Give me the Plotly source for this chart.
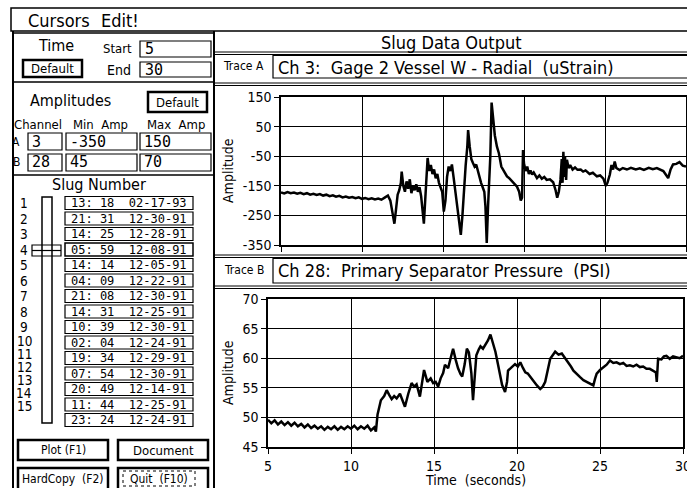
import plotly.graph_objects as go

W, H = 687, 488

# ---------------- data ----------------
time_a = [5.0, 5.2, 5.4, 5.6, 5.8, 6.0, 6.2, 6.4, 6.6, 6.8, 7.0, 7.2, 7.4, 7.6, 7.8, 8.0, 8.2, 8.4, 8.6, 8.8,
          9.0, 9.2, 9.4, 9.6, 9.8, 10.0, 10.2, 10.4, 10.6, 10.8, 11.0, 11.2, 11.4, 11.6, 11.75, 11.9, 12.0, 12.1,
          12.2, 12.3, 12.4, 12.45, 12.55, 12.65, 12.75, 12.85, 12.95, 13.05, 13.15, 13.25, 13.35, 13.45, 13.55,
          13.65, 13.75, 13.82, 13.9, 14.0, 14.05, 14.15, 14.25, 14.35, 14.45, 14.55, 14.65, 14.75, 14.85, 14.95,
          15.05, 15.15, 15.25, 15.35, 15.45, 15.55, 15.65, 15.75, 15.85, 15.95, 16.1, 16.2, 16.3, 16.4, 16.5,
          16.55, 16.65, 16.75, 16.85, 16.95, 17.05, 17.15, 17.25, 17.35, 17.45, 17.55, 17.62, 17.7, 17.78, 17.85,
          17.92, 18.0, 18.1, 18.2, 18.33, 18.45, 18.6, 18.75, 18.95, 19.1, 19.25, 19.4, 19.57, 19.7, 19.8, 19.88,
          19.94, 20.0, 20.1, 20.2, 20.3, 20.4, 20.5, 20.6, 20.8, 20.95, 21.1, 21.25, 21.4, 21.6, 21.8, 21.95,
          22.05, 22.15, 22.25, 22.33, 22.38, 22.43, 22.48, 22.53, 22.6, 22.65, 22.75, 22.85, 23.0, 23.15, 23.3,
          23.5, 23.65, 23.8, 24.05, 24.25, 24.5, 24.7, 24.9, 25.05, 25.15, 25.3, 25.4, 25.5, 25.6, 25.7, 25.9,
          26.1, 26.35, 26.6, 26.9, 27.15, 27.4, 27.7, 27.95, 28.2, 28.45, 28.6, 28.75, 28.9, 29.05, 29.2, 29.4,
          29.6, 29.8, 30.0]
strain_a = [-172, -176, -171, -175, -173, -177, -174, -178, -175, -180, -177, -181, -178, -183, -180, -185, -182,
            -187, -184, -189, -186, -190, -188, -192, -189, -194, -191, -195, -192, -196, -193, -197, -190, -183,
            -200, -250, -278, -230, -180, -165, -140, -102, -150, -170, -135, -160, -128, -175, -150, -165, -145,
            -170, -155, -185, -230, -278, -200, -90, -56, -100, -80, -110, -95, -125, -110, -140, -155, -170,
            -237, -200, -120, -85, -100, -78, -120, -160, -200, -240, -316, -250, -153, -80, -18, 38, -18, -60,
            -73, -85, -78, -100, -120, -140, -155, -170, -220, -343, -220, -120, -52, 131, 72, 20, -18, -40, -85,
            -100, -118, -125, -135, -145, -153, -170, -200, -190, -29, -75, -100, -85, -110, -98, -112, -105,
            -124, -115, -126, -120, -130, -128, -138, -165, -190, -170, -130, -60, -140, -35, -120, -50, -130,
            -62, -90, -80, -95, -88, -96, -95, -102, -98, -110, -106, -118, -115, -126, -150, -140, -112, -80,
            -95, -68, -90, -97, -90, -95, -89, -95, -91, -96, -89, -94, -90, -96, -100, -112, -124, -95, -78,
            -76, -70, -82, -85]

time_b = [5.0, 5.2, 5.4, 5.6, 5.8, 6.0, 6.2, 6.4, 6.6, 6.8, 7.0, 7.2, 7.4, 7.6, 7.8, 8.0, 8.2, 8.4, 8.6, 8.8,
          9.0, 9.2, 9.4, 9.6, 9.8, 10.0, 10.2, 10.4, 10.6, 10.8, 11.0, 11.2, 11.4, 11.5, 11.6, 11.8, 12.0, 12.15,
          12.3, 12.45, 12.6, 12.75, 12.95, 13.1, 13.25, 13.45, 13.65, 13.8, 13.95, 14.15, 14.3, 14.4, 14.5, 14.6,
          14.8, 14.95, 15.1, 15.25, 15.4, 15.55, 15.66, 15.85, 16.0, 16.15, 16.3, 16.45, 16.6, 16.7, 16.85, 16.98,
          17.1, 17.25, 17.35, 17.45, 17.55, 17.7, 17.8, 17.95, 18.1, 18.25, 18.4, 18.55, 18.7, 18.85, 18.98, 19.1,
          19.28, 19.4, 19.46, 19.6, 19.75, 19.88, 20.05, 20.2, 20.35, 20.5, 20.65, 20.8, 21.0, 21.2, 21.4, 21.55,
          21.7, 21.85, 22.0, 22.15, 22.3, 22.5, 22.7, 22.9, 23.1, 23.25, 23.4, 23.6, 23.8, 24.0, 24.2, 24.4, 24.6,
          24.7, 24.8, 25.0, 25.2, 25.4, 25.6, 25.8, 26.0, 26.2, 26.4, 26.6, 26.8, 27.0, 27.2, 27.4, 27.6, 27.8,
          28.0, 28.2, 28.37, 28.42, 28.5, 28.7, 28.85, 29.0, 29.2, 29.4, 29.6, 29.8, 30.0]
psi_b = [49.6, 49.0, 49.5, 48.8, 49.3, 48.7, 49.2, 48.6, 49.1, 48.5, 48.9, 48.3, 48.8, 48.2, 48.6, 48.1, 48.5,
         47.9, 48.4, 48.0, 48.5, 47.9, 48.4, 48.0, 48.5, 48.1, 48.6, 48.0, 48.5, 48.1, 48.6, 47.8, 48.3, 47.6,
         50.5, 52.9, 53.6, 54.6, 53.8, 53.1, 53.6, 53.2, 54.0, 53.0, 51.8, 54.0, 55.8, 55.2, 55.6, 53.5, 56.0,
         58.0, 57.0, 56.0, 56.6, 55.8, 56.0, 55.2, 56.6, 57.5, 58.9, 58.3, 60.0, 61.6, 59.8, 58.3, 57.3, 56.9,
         59.0, 61.6, 61.0, 57.5, 52.9, 57.0, 60.5, 61.5, 62.0, 61.6, 62.3, 63.0, 64.0, 62.5, 61.1, 59.0, 57.1,
         55.5, 54.3, 56.0, 57.9, 58.3, 58.8, 59.0, 58.6, 59.3, 58.4, 57.6, 57.4, 56.8, 56.2, 55.4, 54.8, 55.2,
         56.0, 57.8, 59.9, 60.5, 61.1, 60.6, 60.8, 60.0, 59.3, 58.6, 57.9, 57.3, 56.8, 56.3, 56.0, 55.8, 55.4,
         56.5, 57.4, 58.0, 58.5, 58.9, 59.6, 59.2, 59.3, 59.0, 59.2, 58.7, 58.8, 58.6, 58.9, 58.5, 58.6, 58.2,
         58.2, 57.9, 57.6, 56.0, 59.9, 59.8, 60.3, 60.4, 59.9, 60.3, 60.2, 60.0, 60.4]

x_ticks = [5, 10, 15, 20, 25, 30]
ya_ticks = [150, 50, -50, -150, -250, -350]
yb_ticks = [70, 65, 60, 55, 50, 45]

slug_numbers = [str(i) for i in range(1, 16)]
slug_times = ["13: 18", "21: 31", "14: 25", "05: 59", "14: 14", "04: 09", "21: 08", "14: 31",
              "10: 39", "02: 04", "19: 34", "07: 54", "20: 49", "11: 44", "23: 24"]
slug_dates = ["02-17-93", "12-30-91", "12-28-91", "12-08-91", "12-05-91", "12-22-91", "12-30-91", "12-25-91",
              "12-30-91", "12-24-91", "12-29-91", "12-30-91", "12-14-91", "12-25-91", "12-24-91"]
selected_slug = 4

time_start, time_end = "5", "30"
channels = ["A", "B"]
channel_ids = ["3", "28"]
min_amps = ["-350", "45"]
max_amps = ["150", "70"]
trace_a_label = "Ch 3:  Gage 2 Vessel W - Radial  (uStrain)"
trace_b_label = "Ch 28:  Primary Separator Pressure  (PSI)"

# ---------------- helpers (pixel -> paper) ----------------
NARROW = "Liberation Sans Narrow, DejaVu Sans Condensed, Roboto Condensed, Arial Narrow, sans-serif"
MONO = "DejaVu Sans Mono, Liberation Mono, monospace"


def X(px):
    return px / W


def Y(py):
    return 1 - py / H


shapes = []
annotations = []


def rect(x0, y0, x1, y1, w=1.2, dash=None):
    line = dict(color="black", width=w)
    if dash:
        line["dash"] = dash
    shapes.append(dict(type="rect", xref="paper", yref="paper", x0=X(x0), x1=X(x1),
                       y0=Y(y1), y1=Y(y0), line=line, fillcolor="rgba(0,0,0,0)"))


def hline(x0, x1, y, w=1.2):
    shapes.append(dict(type="line", xref="paper", yref="paper", x0=X(x0), x1=X(x1),
                       y0=Y(y), y1=Y(y), line=dict(color="black", width=w)))


def vline(x, y0, y1, w=1.2):
    shapes.append(dict(type="line", xref="paper", yref="paper", x0=X(x), x1=X(x),
                       y0=Y(y0), y1=Y(y1), line=dict(color="black", width=w)))


def text(s, x, y, size, anchor="center", family=NARROW, angle=0):
    annotations.append(dict(text=s, x=X(x), y=Y(y), xref="paper", yref="paper",
                            xanchor=anchor, yanchor="middle", showarrow=False, textangle=angle,
                            borderpad=0,
                            font=dict(size=size, family=family, color="black")))


# ---------------- GUI frame ----------------
# menu bar
rect(11, 8, 700, 31, 1.5)
text("Cursors", 27, 20, 18, "left")
text("Edit!", 100, 20, 18, "left")

# left panel
vline(13, 31, 490, 2)
vline(214, 31, 490, 2)
hline(13, 214, 33, 1.5)

# Time section
text("Time", 56, 46, 16)
text("Start", 133, 48, 13, "right")
rect(140, 41, 211, 57, 1.2)
text(time_start, 144, 49.5, 15, "left", MONO)
text("End", 132, 70, 14, "right")
rect(140, 62, 211, 77, 1.2)
text(time_end, 144, 70, 15, "left", MONO)
rect(23, 60, 82, 77, 2.5)
text("Default", 52.5, 68.5, 13)
hline(13, 214, 82, 1.5)

# Amplitudes section
text("Amplitudes", 70, 100, 16)
rect(148, 92, 207, 112, 2.5)
text("Default", 177.5, 102, 13)
text("Channel", 13, 125, 13, "left")
text("Min  Amp", 72, 125, 13, "left")
text("Max  Amp", 146, 125, 13, "left")
row_tops = [133, 154]
for i in range(2):
    t0 = row_tops[i]
    t1 = t0 + 17
    ym = (t0 + t1) / 2
    text(channels[i], 16, ym, 12)
    rect(28, t0, 62, t1, 1.2)
    text(channel_ids[i], 31, ym, 15, "left", MONO)
    rect(66, t0, 137, t1, 1.2)
    text(min_amps[i], 69, ym, 15, "left", MONO)
    rect(140, t0, 211, t1, 1.2)
    text(max_amps[i], 143, ym, 15, "left", MONO)
hline(13, 214, 175, 1.5)

# Slug number section
text("Slug Number", 99, 185, 16)
label_y = [203, 218.5, 234, 249.5, 265, 280.5, 296, 311.5, 327, 341, 354, 367, 380, 393, 406]
for i, lab in enumerate(slug_numbers):
    text(lab, 24, label_y[i], 13.5)
rect(42, 197, 52, 423, 1.5)
thumb_y = 245 + (selected_slug - 4) * 15.5
rect(32, thumb_y, 61, thumb_y + 11, 1.2)
hline(32, 61, thumb_y + 5.5, 1.2)
for i in range(15):
    top = 196.5 + i * 15.5
    rect(65, top, 193, top + 13, 1.5 if i + 1 == selected_slug else 1.2)
    text(slug_times[i] + "  " + slug_dates[i], 129, top + 6.7, 12, "center", MONO)

# buttons
rect(18, 440, 108, 460, 2.5)
text("Plot (F1)", 63, 450, 12)
rect(118, 440, 208, 460, 2.5)
text("Document", 163, 450, 13)
rect(18, 468, 108, 490, 2.5)
text("HardCopy  (F2)", 63, 479, 12)
rect(118, 468, 208, 490, 2.5)
rect(123, 471, 195, 486, 1, "dot")
text("Quit  (F10)", 159, 479, 12)

# right panel header rows
text("Slug Data Output", 451, 42, 18)
hline(214, 700, 52, 1)
hline(214, 700, 54.5, 1)
text("Trace A", 244, 66, 12)
rect(273, 55.5, 700, 78, 1.2)
text(trace_a_label, 277, 67, 18, "left")
hline(214, 700, 83, 1)
hline(214, 700, 85.5, 1)
hline(214, 700, 255, 1)
hline(214, 700, 257.5, 1)
text("Trace B", 244, 270, 12)
rect(273, 258.5, 700, 283, 1.2)
text(trace_b_label, 277, 270, 18, "left")
hline(214, 700, 286, 1)
hline(214, 700, 288.5, 1)

# y axis titles
text("Amplitude", 228, 171, 14, "center", NARROW, -90)
text("Amplitude", 228, 373, 14, "center", NARROW, -90)
text("Time  (seconds)", 475, 480, 14)

# ---------------- charts ----------------
fig = go.Figure()
fig.add_trace(go.Scatter(x=time_a, y=strain_a, mode="lines", line=dict(color="black", width=2.5),
                         xaxis="x", yaxis="y", showlegend=False))
fig.add_trace(go.Scatter(x=time_b, y=psi_b, mode="lines", line=dict(color="black", width=2.5),
                         xaxis="x2", yaxis="y2", showlegend=False))

axis_common = dict(showline=True, linecolor="black", linewidth=1.5, mirror=True,
                   showgrid=True, gridcolor="black", gridwidth=1, zeroline=False, automargin=False,
                   ticks="outside", tickcolor="black", ticklen=5, tickwidth=1,
                   ticklabeloverflow="allow",
                   tickfont=dict(family=NARROW, size=14, color="black"))

fig.update_layout(
    width=W, height=H,
    margin=dict(l=0, r=0, t=0, b=0, pad=0, autoexpand=False),
    paper_bgcolor="white", plot_bgcolor="white",
    showlegend=False,
    xaxis=dict(domain=[X(281), X(686)], range=[5, 30], tickvals=x_ticks, showticklabels=False,
               anchor="y", **axis_common),
    yaxis=dict(domain=[Y(245), Y(97)], range=[-350, 150], tickvals=ya_ticks,
               ticktext=[str(v) for v in ya_ticks], anchor="x", **axis_common),
    xaxis2=dict(domain=[X(268), X(683)], range=[5, 30], tickvals=x_ticks,
                ticktext=[str(v) for v in x_ticks], anchor="y2", **axis_common),
    yaxis2=dict(domain=[Y(447), Y(299)], range=[45, 70], tickvals=yb_ticks,
                ticktext=[str(v) for v in yb_ticks], anchor="x2", **axis_common),
    shapes=shapes,
    annotations=annotations,
)

fig.write_html("out.html", config={"displayModeBar": False},
               post_script="document.body.style.margin='0px';document.body.style.overflow='hidden';")
